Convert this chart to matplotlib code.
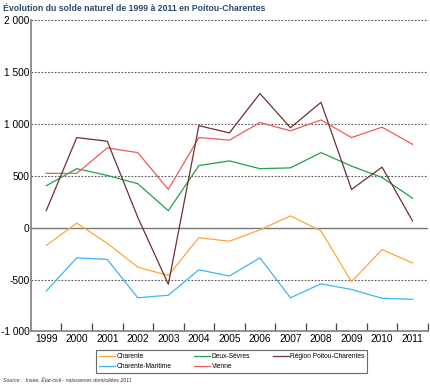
import matplotlib
matplotlib.use("Agg")
import matplotlib.pyplot as plt
from matplotlib.ticker import FuncFormatter

plt.rcParams['font.family'] = ['Liberation Sans', 'DejaVu Sans']

years = ["1999", "2000", "2001", "2002", "2003", "2004", "2005", "2006", "2007", "2008", "2009", "2010", "2011"]
charente = [-170, 45, -150, -380, -460, -95, -130, -20, 115, -30, -520, -210, -340]
charente_maritime = [-610, -290, -305, -675, -650, -405, -465, -290, -675, -540, -595, -680, -690]
deux_sevres = [405, 570, 505, 425, 165, 600, 645, 570, 578, 725, 595, 485, 285]
vienne = [525, 525, 770, 725, 370, 870, 845, 1015, 935, 1040, 870, 970, 805]
region = [165, 870, 835, 100, -545, 985, 915, 1295, 965, 1210, 370, 585, 65]

series = [
    ("Charente", charente, "#F9A83A"),
    ("Charente-Maritime", charente_maritime, "#3DB7EE"),
    ("Deux-Sèvres", deux_sevres, "#22A04E"),
    ("Vienne", vienne, "#EE5A58"),
    ("Région Poitou-Charentes", region, "#6E3030"),
]

fig = plt.figure(figsize=(4.30, 3.85), dpi=100)
ax = fig.add_axes([0.072, 0.139, 0.923, 0.808])

x = list(range(len(years)))
for name, vals, col in series:
    ax.plot(x, vals, color=col, lw=0.9, label=name)

ax.set_xlim(-0.5, len(years) - 0.5)
ax.set_ylim(-1000, 2000)
ax.set_yticks([-1000, -500, 0, 500, 1000, 1500, 2000])
ax.yaxis.set_major_formatter(FuncFormatter(lambda v, p: f"{int(v):,}".replace(",", " ")))
for v in [-500, 500, 1000, 1500, 2000]:
    ax.axhline(v, color="#555555", lw=0.8, ls=(0, (1.5, 1.5)), zorder=0)
ax.axhline(0, color="#777777", lw=1.0, zorder=0)

ax.set_xticks([i + 0.5 for i in range(len(years))])
ax.set_xticklabels([])
ax.set_xticks(x, minor=True)
ax.set_xticklabels(years, minor=True, fontsize=7.3)
ax.tick_params(axis="x", which="major", direction="in", length=6, width=0.9, color="#444444")
ax.tick_params(axis="x", which="minor", length=0, pad=1.5)
ax.tick_params(axis="y", length=0, pad=1, labelsize=7.3)

for s in ["top", "right"]:
    ax.spines[s].set_visible(False)
ax.spines["left"].set_color("#888888")
ax.spines["left"].set_linewidth(1.3)
ax.spines["bottom"].set_color("#888888")
ax.spines["bottom"].set_linewidth(1.3)

leg = fig.legend(loc="upper left", bbox_to_anchor=(93 / 430, 1 - 347 / 385), ncol=3,
                 prop={'size': 4.8}, frameon=True, fancybox=False,
                 edgecolor="#444444", handlelength=2.4, handletextpad=0.2, columnspacing=3.4,
                 labelspacing=0.4, borderpad=0.45)
leg.get_frame().set_linewidth(0.8)

fig.text(0.008, 0.99, "Évolution du solde naturel de 1999 à 2011 en Poitou-Charentes",
         fontsize=6.3, fontweight="bold", color="#2C4A6E", va="top", ha="left")
fig.text(0.008, 0.006, "Source :  Insee, État-civil - naissances domiciliées 2011",
         fontsize=3.8, style="italic", color="#333333", va="bottom", ha="left")

fig.savefig("out.png", dpi=100)
